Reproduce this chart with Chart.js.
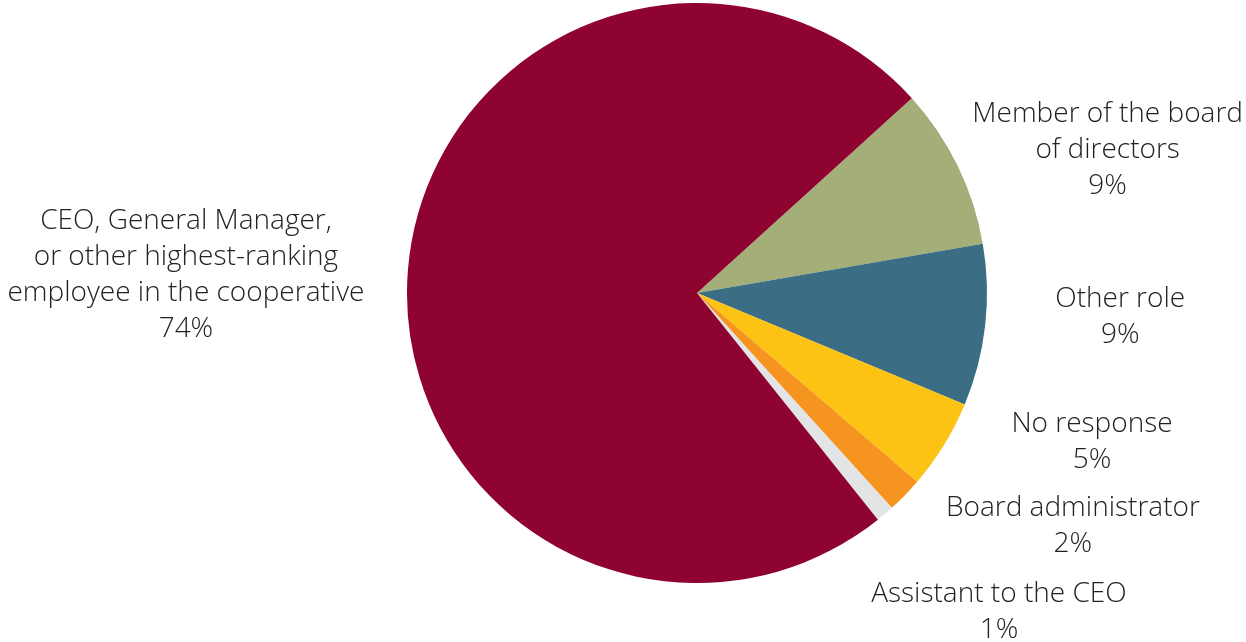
<!DOCTYPE html>
<html>
<head>
<meta charset="utf-8">
<script src="https://cdn.jsdelivr.net/npm/chart.js@4"></script>
<style>
  html, body { margin: 0; padding: 0; background: #fff; }
  #wrap { width: 1246px; height: 642px; }
</style>
</head>
<body>
<div id="wrap"><canvas id="role-chart"></canvas></div>
<script>
// Respondent role breakdown (percent)
const roles = [
    ['Member of the board', 'of directors'],
    ['Other role'],
    ['No response'],
    ['Board administrator'],
    ['Assistant to the CEO'],
    ['CEO, General Manager,', 'or other highest-ranking', 'employee in the cooperative']
];
const shares = [9, 9, 5, 2, 1, 74];
const colors = ['#a3ae78', '#3b6e84', '#fdc314', '#f5951f', '#e3e4e5', '#8f0330'];

// label block offsets from the outer edge of each slice's middle
const labelOffsets = [
    { dx: 150, dy: -16 },
    { dx: 135, dy: -8 },
    { dx: 148, dy: -3 },
    { dx: 168, dy: 31 },
    { dx: 114, dy: 98 },
    { dx: -222, dy: 5 }
];

const sliceLabels = {
    id: 'sliceLabels',
    afterDatasetsDraw(chart) {
        const ctx = chart.ctx;
        const meta = chart.getDatasetMeta(0);
        const lineH = 36;
        ctx.save();
        ctx.font = '300 28px "Open Sans", sans-serif';
        ctx.fillStyle = '#222';
        ctx.textAlign = 'center';
        ctx.textBaseline = 'middle';
        meta.data.forEach((arc, i) => {
            const p = arc.getProps(['x', 'y', 'startAngle', 'endAngle', 'outerRadius'], true);
            const mid = (p.startAngle + p.endAngle) / 2;
            const ax = p.x + Math.cos(mid) * p.outerRadius + labelOffsets[i].dx;
            const ay = p.y + Math.sin(mid) * p.outerRadius + labelOffsets[i].dy;
            const lines = [...roles[i], shares[i] + '%'];
            const top = ay - (lines.length - 1) * lineH / 2;
            lines.forEach((t, j) => ctx.fillText(t, ax, top + j * lineH));
        });
        ctx.restore();
    }
};

new Chart(document.getElementById('role-chart'), {
    type: 'pie',
    data: {
        labels: roles.map(r => r.join(' ')),
        datasets: [{
            data: shares,
            backgroundColor: colors,
            borderWidth: 0
        }]
    },
    options: {
        responsive: true,
        maintainAspectRatio: false,
        animation: false,
        rotation: 47.8,
        layout: { padding: { left: 407, right: 259, top: 3, bottom: 59 } },
        plugins: {
            legend: { display: false },
            tooltip: { enabled: false }
        }
    },
    plugins: [sliceLabels]
});
</script>
</body>
</html>
